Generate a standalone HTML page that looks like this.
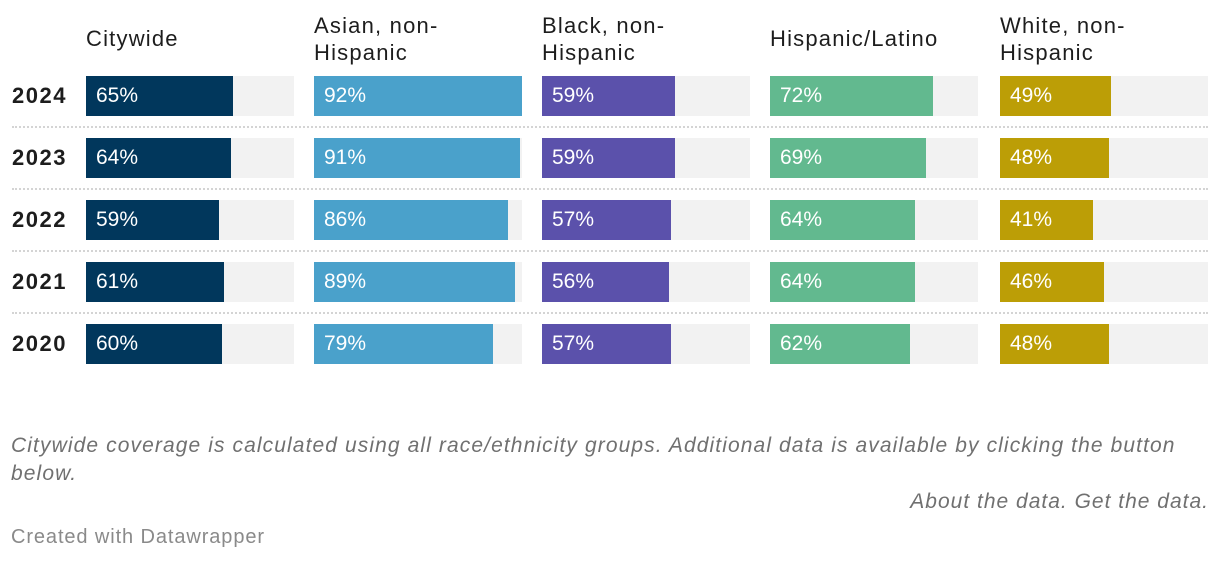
<!DOCTYPE html>
<html><head><meta charset="utf-8"><style>
body{margin:0;background:#fff;width:1220px;height:562px;overflow:hidden;font-family:"Liberation Sans",sans-serif;position:relative}
.t{position:absolute;white-space:nowrap}
.note{font-size:21px;color:#707070;font-style:italic;line-height:28px;letter-spacing:1.1px}
</style></head><body>
<div id="chart"></div>
<div class="t note" style="left:11px;top:432px">Citywide coverage is calculated using all race/ethnicity groups. Additional data is available by clicking the button<br>below.</div>
<div class="t note" style="right:11px;top:488px;letter-spacing:1px">About the data. Get the data.</div>
<div class="t" style="left:11px;top:526px;font-size:20px;color:#8a8a8a;letter-spacing:0.9px">Created with Datawrapper</div>
<script>
const years=["2024","2023","2022","2021","2020"];
const groups=["Citywide","Asian, non-\nHispanic","Black, non-\nHispanic","Hispanic/Latino","White, non-\nHispanic"];
const citywide=[65,64,59,61,60];
const asian=[92,91,86,89,79];
const black=[59,59,57,56,57];
const hispanic=[72,69,64,64,62];
const white=[49,48,41,46,48];
const series=[citywide,asian,black,hispanic,white];
const colors=["#01375c","#4aa1cb","#5b51ab","#62b98f","#bc9e06"];
const maxV=Math.max(...series.flat());
const colX=c=>c===4?1000:86+c*228, W=208, rowY=r=>76+r*62;
const xs=v=>v/maxV*W;
const root=document.getElementById('chart');
function mk(css,txt){const d=document.createElement('div');d.className='t';d.style.cssText=css;if(txt!==undefined)d.textContent=txt;root.appendChild(d);return d;}
groups.forEach((g,c)=>{const lines=g.split("\n");const d=mk(`left:${colX(c)}px;top:${lines.length>1?12:25}px;font-size:22px;letter-spacing:1.2px;color:#1d1d1d;line-height:27px;white-space:pre`,g);

});
years.forEach((y,r)=>{const d=mk(`left:12px;top:${rowY(r)+7}px;font-size:22px;letter-spacing:1.5px;font-weight:bold;color:#1d1d1d;line-height:26px`,y);


if(r<years.length-1){const s=mk(`left:12px;top:${rowY(r)+50}px;width:1196px;border-top:2px dotted #d4d4d4;height:0`);

}
series.forEach((arr,c)=>{const bg=mk(`left:${colX(c)}px;top:${rowY(r)}px;width:${W}px;height:40px;background:#f2f2f2`);


const b=mk(`left:${colX(c)}px;top:${rowY(r)}px;width:${xs(arr[r])}px;height:40px;background:${colors[c]}`);


const l=mk(`left:${colX(c)+10}px;top:${rowY(r)+8}px;font-size:21px;color:#fff;line-height:24px`,arr[r]+"%");

});});
</script>
</body></html>
